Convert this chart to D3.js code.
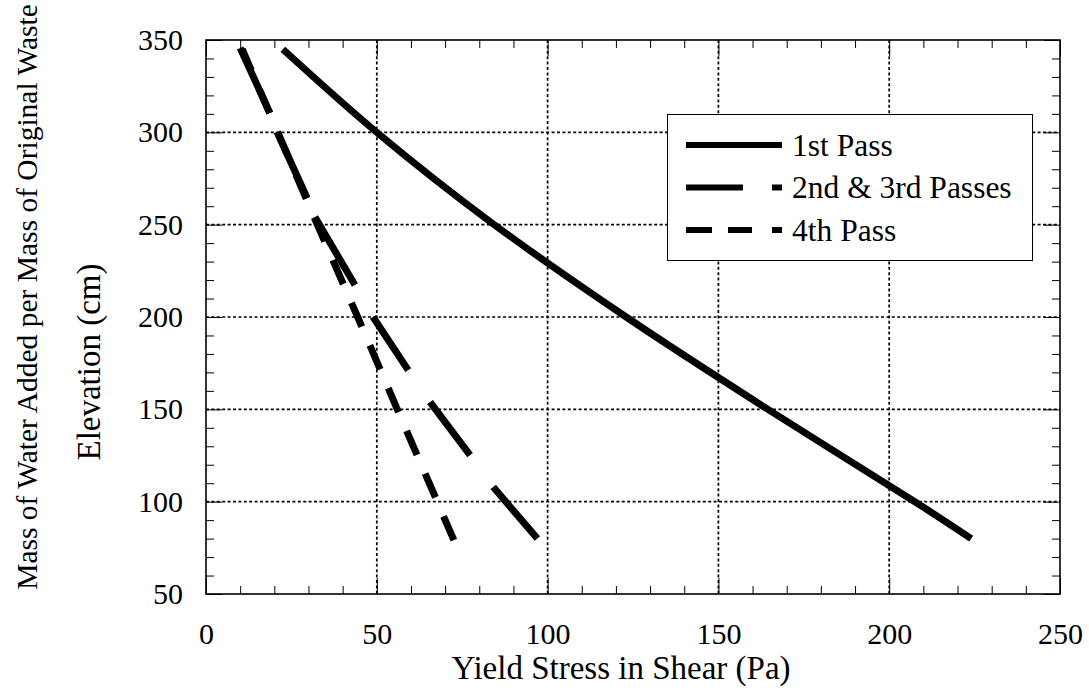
<!DOCTYPE html>
<html>
<head>
<meta charset="utf-8">
<script src="https://cdn.jsdelivr.net/npm/d3@7"></script>
<style>
  html, body { margin: 0; padding: 0; background: #fff; }
  svg text { font-family: "Liberation Serif", "Times New Roman", serif; fill: #000; }
</style>
</head>
<body>
<svg id="chart" width="1089" height="695"></svg>
<script>
// Yield stress (Pa) versus elevation (cm) for each pass
const pass1Stress = [22.5, 50, 83.2, 123, 164.5, 207.5, 224];
const pass1Elev   = [345, 300, 251.6, 200, 150, 100, 80];

const pass23Stress = [10, 18.7, 20.8, 29.6, 31.9, 43.6, 48.9, 59.2, 65.6, 77.3, 84.1, 97];
const pass23Elev   = [345.7, 310.5, 300.2, 264.4, 254.1, 217.3, 200, 171.2, 153.9, 125.2, 107.9, 80];

const pass4Stress = [10.6, 21, 32.6, 44.4, 56, 67.7, 72.6];
const pass4Elev   = [345, 300, 250, 200, 150, 100, 79];

const seriesNames = ["1st Pass", "2nd & 3rd Passes", "4th Pass"];

const xTicks = [0, 50, 100, 150, 200, 250];
const yTicks = [50, 100, 150, 200, 250, 300, 350];
const xMinorStep = 10;
const yMinorStep = 10;

const xTitle = "Yield Stress in Shear (Pa)";
const yTitle = "Elevation (cm)";
const yTitleOuter = "Mass of Water Added per Mass of Original Waste";

// Layout
const svg = d3.select("#chart");
const plotLeft = 206, plotTop = 40, plotW = 854, plotH = 554;
const TICK_FONT = 30, LEGEND_FONT = 31.5, TITLE_FONT = 33, OUTER_FONT = 29.5;

const x = d3.scaleLinear().domain([0, 250]).range([plotLeft, plotLeft + plotW]);
const y = d3.scaleLinear().domain([50, 350]).range([plotTop + plotH, plotTop]);

const xMinor = d3.range(0, 250 + 1e-9, xMinorStep).filter(v => !xTicks.includes(v));
const yMinor = d3.range(50, 350 + 1e-9, yMinorStep).filter(v => !yTicks.includes(v));

// Dotted grid at interior major ticks
const grid = svg.append("g")
  .attr("stroke", "#000").attr("stroke-width", 1.7).attr("stroke-dasharray", "3,2.4");
grid.selectAll("line.gx").data(xTicks.slice(1, -1)).join("line")
  .attr("x1", d => x(d)).attr("x2", d => x(d))
  .attr("y1", plotTop).attr("y2", plotTop + plotH);
grid.selectAll("line.gy").data(yTicks.slice(1, -1)).join("line")
  .attr("x1", plotLeft).attr("x2", plotLeft + plotW)
  .attr("y1", d => y(d)).attr("y2", d => y(d));

// Inward tick marks on all four sides
function ticks(axisFn, scale, values, size, transform) {
  const g = svg.append("g").attr("transform", transform)
    .call(axisFn(scale).tickValues(values).tickSize(size).tickFormat(""));
  g.select(".domain").remove();
  g.selectAll("line").attr("stroke", "#000").attr("stroke-width", 1);
  return g;
}
ticks(d3.axisBottom, x, xMinor, -8, `translate(0,${plotTop + plotH})`);
ticks(d3.axisTop, x, xMinor, -8, `translate(0,${plotTop})`);
ticks(d3.axisLeft, y, yMinor, -8, `translate(${plotLeft},0)`);
ticks(d3.axisRight, y, yMinor, -8, `translate(${plotLeft + plotW},0)`);
ticks(d3.axisTop, x, xTicks, -16, `translate(0,${plotTop})`);
ticks(d3.axisRight, y, yTicks, -16, `translate(${plotLeft + plotW},0)`);

// Labelled major axes
const xAxis = svg.append("g").attr("transform", `translate(0,${plotTop + plotH})`)
  .call(d3.axisBottom(x).tickValues(xTicks).tickSize(-16).tickPadding(28.5).tickFormat(d3.format("d")));
const yAxis = svg.append("g").attr("transform", `translate(${plotLeft},0)`)
  .call(d3.axisLeft(y).tickValues(yTicks).tickSize(-16).tickPadding(23).tickFormat(d3.format("d")));
[xAxis, yAxis].forEach(g => {
  g.select(".domain").remove();
  g.selectAll("line").attr("stroke", "#000").attr("stroke-width", 1);
  g.selectAll("text").attr("font-size", TICK_FONT)
    .attr("font-family", '"Liberation Serif","Times New Roman",serif').attr("fill", "#000");
});

// Frame
svg.append("rect")
  .attr("x", plotLeft).attr("y", plotTop).attr("width", plotW).attr("height", plotH)
  .attr("fill", "none").attr("stroke", "#000").attr("stroke-width", 1.6);

// Series
const series = [
  { name: seriesNames[0], xs: pass1Stress, ys: pass1Elev, curve: d3.curveCatmullRom,
    dash: null, offset: 0, legendDash: null },
  { name: seriesNames[1], xs: pass23Stress, ys: pass23Elev, curve: d3.curveLinear,
    dash: "71.5 20.3 72.6 20.6 78.8 36.7 63.8 38.7 66.4 39.5 68 40", offset: 0, legendDash: "57 29 10" },
  { name: seriesNames[2], xs: pass4Stress, ys: pass4Elev, curve: d3.curveLinear,
    dash: "26 20.5", offset: 2.9, legendDash: "26 16 24 20 10" }
];

const plot = svg.append("g");
series.forEach(s => {
  const pts = s.xs.map((v, i) => [v, s.ys[i]]);
  const line = d3.line().curve(s.curve).x(d => x(d[0])).y(d => y(d[1]));
  plot.append("path")
    .attr("d", line(pts))
    .attr("fill", "none").attr("stroke", "#000").attr("stroke-width", 7)
    .attr("stroke-linejoin", "round")
    .attr("stroke-linecap", "butt")
    .attr("stroke-dasharray", s.dash)
    .attr("stroke-dashoffset", s.offset);
});

// Legend
const lg = svg.append("g");
lg.append("rect").attr("x", 667.5).attr("y", 114.5).attr("width", 365).attr("height", 146)
  .attr("fill", "#fff").attr("stroke", "#000").attr("stroke-width", 1);
const rowY = [145, 187.5, 230];
series.forEach((s, i) => {
  lg.append("line")
    .attr("x1", 686).attr("x2", 782).attr("y1", rowY[i]).attr("y2", rowY[i])
    .attr("stroke", "#000").attr("stroke-width", 6)
    .attr("stroke-dasharray", s.legendDash);
  lg.append("text").attr("x", 792).attr("y", rowY[i] + 10.5)
    .attr("font-size", LEGEND_FONT).text(s.name);
});

// Axis titles
svg.append("text").attr("x", 621).attr("y", 679)
  .attr("text-anchor", "middle").attr("font-size", TITLE_FONT).text(xTitle);
svg.append("text").attr("transform", "translate(100,362) rotate(-90)")
  .attr("text-anchor", "middle").attr("font-size", TITLE_FONT).text(yTitle);
svg.append("text").attr("transform", "translate(37,297) rotate(-90)")
  .attr("text-anchor", "middle").attr("font-size", OUTER_FONT).text(yTitleOuter);
</script>
</body>
</html>
